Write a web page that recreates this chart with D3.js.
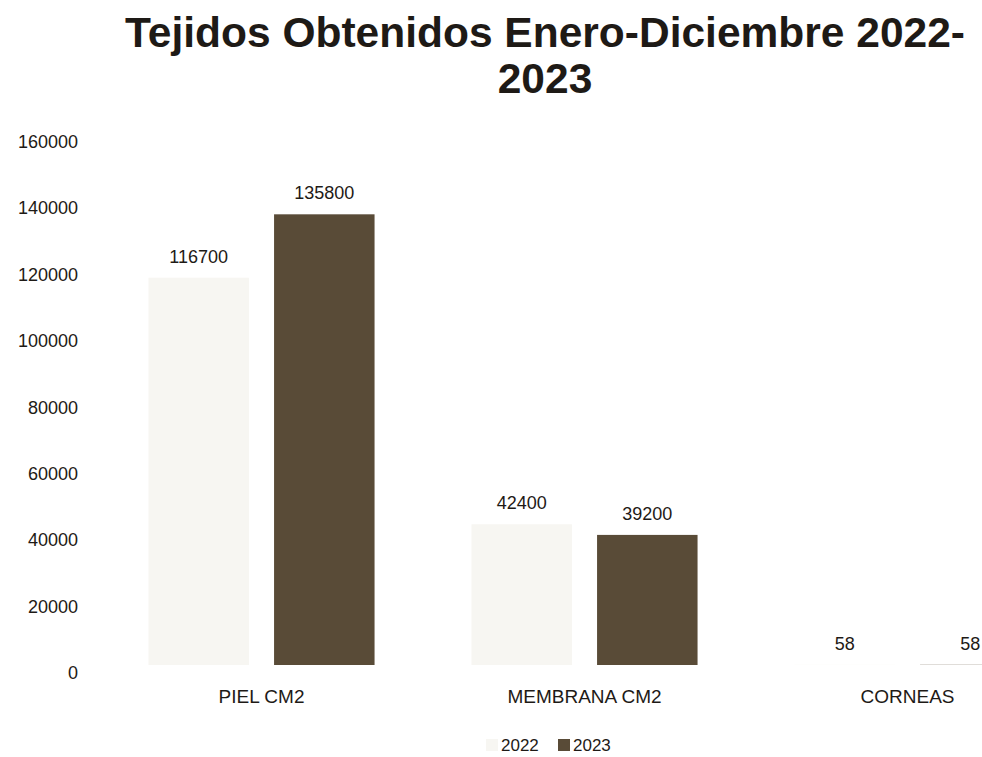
<!DOCTYPE html>
<html>
<head>
<meta charset="utf-8">
<script src="https://cdn.jsdelivr.net/npm/d3@7"></script>
<style>
  body { margin: 0; background: #fff; }
  svg { display: block; }
</style>
</head>
<body>
<svg width="982" height="757"></svg>
<script>
var categories = ["PIEL CM2", "MEMBRANA CM2", "CORNEAS"];
var years = ["2022", "2023"];
var values2022 = [116700, 42400, 58];
var values2023 = [135800, 39200, 58];
var yTicks = [0, 20000, 40000, 60000, 80000, 100000, 120000, 140000, 160000];
var titleLines = ["Tejidos Obtenidos Enero-Diciembre 2022-", "2023"];

var svg = d3.select("svg"),
  width = +svg.attr("width"),
  height = +svg.attr("height");

var font = "'Liberation Sans', Arial, Helvetica, sans-serif";
var colors = { "2022": "#f7f6f2", "2023": "#594b37" };

var rows = categories.map(function (c, i) {
  return { cat: c, vals: [{ year: "2022", v: values2022[i] }, { year: "2023", v: values2023[i] }] };
});

var x0 = d3.scaleBand().domain(categories).range([100, 1069]).paddingInner(0.3).paddingOuter(0.15);
var x1 = d3.scaleBand().domain(years).range([0, x0.bandwidth()]).paddingInner(0.2);
var y = d3.scaleLinear().domain([0, 160000]).range([665, 134]);

// title
svg.append("g")
  .selectAll("text")
  .data(titleLines)
  .enter()
  .append("text")
  .attr("x", 545)
  .attr("y", function (d, i) { return 47 + i * 46; })
  .attr("text-anchor", "middle")
  .attr("font-family", font)
  .attr("font-weight", "bold")
  .attr("font-size", 42.5)
  .attr("fill", "#1e1a16")
  .text(function (d) { return d; });

// y axis
var yAxis = svg.append("g")
  .attr("transform", "translate(88,0)")
  .call(d3.axisLeft(y).tickValues(yTicks).tickSize(0).tickPadding(10).tickFormat(d3.format("d")));
yAxis.select(".domain").remove();
yAxis.selectAll("text")
  .attr("dy", "0.75em")
  .attr("font-family", font)
  .attr("font-size", 18)
  .attr("fill", "#1e1a16");

// x axis
var xAxis = svg.append("g")
  .attr("transform", "translate(0,665)")
  .call(d3.axisBottom(x0).tickSize(0).tickPadding(25));
xAxis.select(".domain").remove();
xAxis.selectAll("text")
  .attr("font-family", font)
  .attr("font-size", 19)
  .attr("fill", "#1e1a16");

// bars
var groups = svg.append("g")
  .selectAll("g")
  .data(rows)
  .enter()
  .append("g")
  .attr("transform", function (d) { return "translate(" + x0(d.cat) + ",0)"; });

groups.selectAll("rect")
  .data(function (d) { return d.vals; })
  .enter()
  .append("rect")
  .attr("x", function (d) { return x1(d.year); })
  .attr("y", function (d) { return y(d.v); })
  .attr("width", x1.bandwidth())
  .attr("height", function (d) { return y(0) - y(d.v); })
  .attr("fill", function (d) { return colors[d.year]; });

groups.selectAll("text")
  .data(function (d) { return d.vals; })
  .enter()
  .append("text")
  .attr("x", function (d) { return x1(d.year) + x1.bandwidth() / 2; })
  .attr("y", function (d) { return y(d.v) - 15; })
  .attr("text-anchor", "middle")
  .attr("font-family", font)
  .attr("font-size", 18)
  .attr("fill", "#1e1a16")
  .text(function (d) { return d.v; });

// legend
var legend = svg.append("g")
  .selectAll("g")
  .data(years)
  .enter()
  .append("g")
  .attr("transform", function (d, i) { return "translate(" + (486 + i * 72) + ",0)"; });
legend.append("rect")
  .attr("x", 0)
  .attr("y", 739)
  .attr("width", 12)
  .attr("height", 12)
  .attr("fill", function (d) { return colors[d]; });
legend.append("text")
  .attr("x", 15)
  .attr("y", 751)
  .attr("font-family", font)
  .attr("font-size", 17)
  .attr("fill", "#1e1a16")
  .text(function (d) { return d; });
</script>
</body>
</html>
